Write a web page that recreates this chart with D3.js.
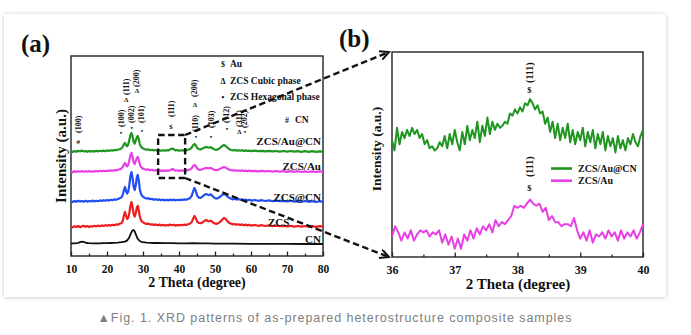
<!DOCTYPE html>
<html>
<head>
<meta charset="utf-8">
<script src="https://cdn.jsdelivr.net/npm/d3@7"></script>
<style>
body { margin: 0; background: #fff; }
svg text { font-family: "Liberation Serif", "Times New Roman", serif; font-weight: bold; fill: #111; }
svg text.caption { font-family: "Liberation Sans", Arial, sans-serif; font-weight: normal; fill: #7e7e7e; letter-spacing: 0.95px; }
</style>
</head>
<body>
<svg id="fig" width="691" height="335"></svg>
<script>
// ---- panel (a): full XRD scans, [2theta, intensity above baseline] ----
var cnData = [[10,0.2],[10.5,0.3],[11,0.3],[11.5,0.4],[12,0.6],[12.5,0.9],[13,1.2],[13.5,1.1],[14,0.7],[14.5,0.5],[15,0.4],[16,0.3],[17,0.3],[18,0.3],[19,0.4],[20,0.4],[21,0.5],[22,0.6],[23,0.7],[24,0.9],[25,1.2],[25.6,1.8],[26.1,3.0],[26.6,5.2],[27.0,6.6],[27.35,7.0],[27.7,6.3],[28.1,4.4],[28.5,2.7],[29,1.6],[29.5,1.1],[30,0.9],[31,0.7],[32,0.6],[33,0.5],[34,0.5],[36,0.4],[38,0.4],[40,0.3],[42,0.3],[44,0.4],[46,0.3],[48,0.3],[50,0.2],[55,0.2],[60,0.1],[65,0.1],[70,0.1],[75,0],[80,0]]

var zcsData = [[10,0.3],[10.5,-0.2],[11,0.4],[11.5,0],[12,0.5],[12.5,-0.1],[13,0.3],[13.5,0.6],[14,0.1],[14.5,0.5],[15,0],[15.5,0.4],[16,0.2],[16.5,0.6],[17,0.3],[17.5,0.7],[18,0.4],[18.5,0.8],[19,0.5],[19.5,0.9],[20,0.6],[20.5,1.0],[21,0.7],[21.5,1.1],[22,0.9],[22.5,1.3],[23,1.1],[23.5,1.6],[24,1.9],[24.4,3.2],[24.7,5.8],[25.0,7.5],[25.3,5.5],[25.6,4.0],[25.9,4.6],[26.2,7.0],[26.5,10.5],[26.8,12.5],[27.1,10],[27.4,6.5],[27.7,5.2],[28.0,7],[28.3,9.8],[28.55,10.5],[28.8,8.5],[29.1,5.5],[29.4,3.6],[29.8,2.6],[30.2,2.1],[30.6,1.8],[31,1.5],[31.5,1.7],[32,1.2],[32.5,1.4],[33,1.0],[33.5,1.3],[34,0.9],[34.5,1.2],[35,0.8],[35.5,1.1],[36,0.7],[36.5,1.0],[37,0.8],[37.5,1.2],[38,0.9],[38.5,1.1],[39,0.7],[39.5,1.0],[40,0.8],[40.5,1.1],[41,0.9],[41.5,1.2],[42,1.0],[42.5,1.4],[43,1.6],[43.5,2.4],[43.9,4.0],[44.3,5.5],[44.7,4.2],[45.1,2.6],[45.5,2.0],[46,1.9],[46.5,2.3],[47,2.9],[47.5,3.5],[48,3.0],[48.4,2.8],[48.8,3.2],[49.2,2.7],[49.6,2.1],[50,1.7],[50.5,1.6],[51,2.0],[51.5,2.7],[52,3.6],[52.5,4.5],[53,3.9],[53.5,2.8],[54,2.0],[54.5,1.6],[55,1.3],[55.5,1.5],[56,1.1],[56.5,1.4],[57,1.0],[57.5,1.3],[58,0.9],[58.5,1.2],[59,0.8],[59.5,1.1],[60,0.7],[61,1.0],[62,0.6],[63,0.9],[64,0.5],[65,0.8],[66,0.4],[67,0.7],[68,0.4],[69,0.6],[70,0.3],[71,0.6],[72,0.2],[73,0.5],[74,0.2],[75,0.5],[76,0.1],[77,0.4],[78,0.1],[79,0.4],[80,0.2]]

var zcsCnData = [[10,0.4],[10.5,0],[11,0.5],[11.5,0.1],[12,0.6],[12.5,0.2],[13,0.5],[13.5,0.1],[14,0.6],[14.5,0.2],[15,0.5],[15.5,0.3],[16,0.7],[16.5,0.3],[17,0.6],[17.5,0.4],[18,0.8],[18.5,0.5],[19,0.9],[19.5,0.6],[20,1.0],[20.5,0.7],[21,1.1],[21.5,0.9],[22,1.3],[22.5,1.1],[23,1.5],[23.5,1.8],[24,2.3],[24.4,3.8],[24.7,6.0],[25.0,7.5],[25.3,5.4],[25.6,4.2],[25.9,5.2],[26.2,8.5],[26.5,13],[26.8,15],[27.1,12],[27.4,7.5],[27.7,6.0],[28.0,8.5],[28.3,12.5],[28.55,13.5],[28.8,11],[29.1,6.5],[29.4,4.2],[29.8,3.0],[30.2,2.4],[30.6,2.0],[31,1.7],[31.5,1.9],[32,1.4],[32.5,1.6],[33,1.1],[33.5,1.4],[34,1.0],[34.5,1.3],[35,0.9],[35.5,1.2],[36,0.8],[36.5,1.1],[37,0.8],[37.5,1.2],[38,0.9],[38.5,1.2],[39,0.8],[39.5,1.1],[40,0.9],[40.5,1.2],[41,1.0],[41.5,1.3],[42,1.1],[42.5,1.5],[43,1.9],[43.5,3.0],[43.9,5.2],[44.3,7.0],[44.7,5.3],[45.1,3.0],[45.5,2.2],[46,2.1],[46.5,2.7],[47,3.5],[47.5,4.0],[48,3.6],[48.4,3.4],[48.8,3.9],[49.2,3.2],[49.6,2.4],[50,1.9],[50.5,1.7],[51,2.1],[51.5,2.8],[52,3.5],[52.5,4.0],[53,3.6],[53.5,2.7],[54,2.0],[54.5,1.6],[55,1.3],[55.5,1.6],[56,1.2],[56.5,1.5],[57,1.1],[57.5,1.3],[58,0.9],[58.5,1.2],[59,0.8],[59.5,1.1],[60,0.7],[61,1.0],[62,0.6],[63,0.9],[64,0.5],[65,0.8],[66,0.4],[67,0.7],[68,0.4],[69,0.6],[70,0.3],[71,0.6],[72,0.2],[73,0.5],[74,0.1],[75,0.5],[76,0.1],[77,0.4],[78,0.0],[79,0.4],[80,0.1]]

var zcsAuData = [[10,0.3],[10.5,-0.1],[11,0.4],[11.5,0],[12,0.4],[12.5,0.1],[13,0.5],[13.5,0.1],[14,0.4],[14.5,0.2],[15,0.5],[15.5,0.1],[16,0.4],[16.5,0.2],[17,0.5],[17.5,0.3],[18,0.6],[18.5,0.3],[19,0.6],[19.5,0.4],[20,0.7],[20.5,0.5],[21,0.8],[21.5,0.6],[22,0.9],[22.5,0.8],[23,1.1],[23.5,1.3],[24,1.7],[24.4,2.6],[24.7,3.8],[25.0,4.5],[25.3,3.4],[25.6,2.8],[25.9,3.5],[26.2,5.8],[26.5,8.3],[26.8,9.5],[27.1,7.6],[27.4,4.8],[27.7,4.0],[28.0,5.5],[28.3,7.0],[28.55,7.5],[28.8,6.3],[29.1,3.9],[29.4,2.6],[29.8,1.9],[30.2,1.5],[30.6,1.3],[31,1.1],[31.5,1.3],[32,0.9],[32.5,1.1],[33,0.7],[33.5,1.0],[34,0.6],[34.5,0.9],[35,0.5],[35.5,0.8],[36,0.5],[36.5,0.8],[37,0.6],[37.5,0.9],[38,1.3],[38.3,1.5],[38.6,1.1],[39,0.7],[39.5,0.9],[40,0.5],[40.5,0.8],[41,0.6],[41.5,0.9],[42,0.7],[42.5,1.0],[43,1.2],[43.5,1.8],[43.9,2.9],[44.3,3.5],[44.7,2.8],[45.1,1.7],[45.5,1.2],[46,1.1],[46.5,1.4],[47,1.8],[47.5,2.0],[48,1.9],[48.4,1.8],[48.8,2.0],[49.2,1.7],[49.6,1.3],[50,1.0],[50.5,0.9],[51,1.2],[51.5,1.7],[52,2.2],[52.5,2.5],[53,2.2],[53.5,1.6],[54,1.1],[54.5,0.9],[55,0.7],[55.5,0.9],[56,0.6],[56.5,0.8],[57,0.5],[57.5,0.8],[58,0.5],[58.5,0.7],[59,0.4],[59.5,0.7],[60,0.4],[61,0.6],[62,0.3],[63,0.6],[64,0.3],[65,0.5],[66,0.2],[67,0.5],[68,0.2],[69,0.4],[70,0.1],[71,0.4],[72,0.1],[73,0.4],[74,0.0],[75,0.3],[76,0.0],[77,0.3],[78,0.0],[79,0.3],[80,0.1]]

var zcsAuCnData = [[10,0.3],[10.5,0],[11,0.5],[11.5,0.1],[12,0.6],[12.5,0.3],[13,0.7],[13.5,0.3],[14,0.5],[14.5,0.1],[15,0.5],[15.5,0.2],[16,0.5],[16.5,0.2],[17,0.6],[17.5,0.3],[18,0.6],[18.5,0.4],[19,0.7],[19.5,0.4],[20,0.8],[20.5,0.5],[21,0.9],[21.5,0.7],[22,1.0],[22.5,0.9],[23,1.2],[23.5,1.4],[24,1.8],[24.4,2.7],[24.7,3.9],[25.0,4.5],[25.3,3.5],[25.6,2.9],[25.9,3.7],[26.2,6.0],[26.5,8.4],[26.8,9.5],[27.1,7.8],[27.4,5.0],[27.7,4.2],[28.0,5.8],[28.3,7.5],[28.55,8.0],[28.8,6.6],[29.1,4.1],[29.4,2.8],[29.8,2.0],[30.2,1.6],[30.6,1.4],[31,1.1],[31.5,1.3],[32,0.9],[32.5,1.1],[33,0.8],[33.5,1.0],[34,0.6],[34.5,0.9],[35,0.6],[35.5,0.9],[36,0.6],[36.5,0.9],[37,0.8],[37.5,1.2],[38,1.6],[38.3,1.7],[38.6,1.3],[39,0.8],[39.5,1.0],[40,0.6],[40.5,0.9],[41,0.7],[41.5,1.0],[42,0.8],[42.5,1.1],[43,1.4],[43.5,2.1],[43.9,3.3],[44.3,4.0],[44.7,3.2],[45.1,1.9],[45.5,1.4],[46,1.3],[46.5,1.7],[47,2.2],[47.5,2.5],[48,2.3],[48.4,2.2],[48.8,2.4],[49.2,2.0],[49.6,1.5],[50,1.2],[50.5,1.1],[51,1.5],[51.5,2.2],[52,3.0],[52.5,3.5],[53,3.0],[53.5,2.1],[54,1.4],[54.5,1.0],[55,0.8],[55.5,1.0],[56,0.7],[56.5,0.9],[57,0.6],[57.5,0.9],[58,0.5],[58.5,0.8],[59,0.5],[59.5,0.7],[60,0.4],[61,0.7],[62,0.4],[63,0.6],[64,0.3],[65,0.6],[66,0.3],[67,0.5],[68,0.2],[69,0.5],[70,0.2],[71,0.5],[72,0.2],[73,0.4],[74,0.1],[75,0.4],[76,0.1],[77,0.4],[78,0.1],[79,0.3],[80,0.2]]

// stacking offsets (a.u.) used to separate the patterns
var sampleNames   = ["CN", "ZCS", "ZCS@CN", "ZCS/Au", "ZCS/Au@CN"]
var sampleOffsets = [6, 14.5, 27, 42, 52]
var sampleColors  = ["#111111", "#ee1c1c", "#1f4ff2", "#e83ee6", "#1f961f"]

// reflections: [2theta, hkl, phase symbol, label foot (a.u.), symbol level (a.u.)]
var peakNotes = [
    [12.0, "(100)", "#", 61.5, 57],
    [23.9, "(100)", "•", 64.5, 61.5],
    [25.3, "(111)", "Δ", 80.5, 78],
    [26.9, "(002)", "•", 66.5, 64],
    [28.3, "(200)", "Δ", 84.5, 82.5],
    [29.7, "(101)", "•", 66.5, 62.5],
    [37.8, "(111)", "$", 69.5, 64.5],
    [44.4, "(200)", "Δ", 79.5, 75.5],
    [44.7, "(110)", "•", 62, 59.5],
    [48.9, "(103)", "•", 64, 59.5],
    [53.3, "(112)", "•", 66.5, 63.5],
    [56.7, "(311)", "Δ", 64.5, 62],
    [58.3, "(202)", "•", 64, 62]
]
var phaseKeys = [["$", "Au"], ["Δ", "ZCS Cubic phase"], ["•", "ZCS Hexagonal phase"]]
var zoomWindow = [34.2, 41.7, 39, 60.5]

// ---- panel (b): Au (111) region ----
var auCnZoom = [[36.00,57],[36.04,52],[36.08,63],[36.12,55],[36.16,61],[36.20,58],[36.24,62],[36.28,59],[36.32,63],[36.36,60],[36.40,62],[36.44,58],[36.48,60],[36.52,55],[36.56,57],[36.60,53],[36.64,54],[36.68,52],[36.72,53],[36.76,56],[36.80,54],[36.84,59],[36.88,53],[36.92,60],[36.96,55],[37.00,62],[37.04,56],[37.08,52],[37.12,61],[37.16,55],[37.20,64],[37.24,57],[37.28,62],[37.32,58],[37.36,66],[37.40,56],[37.44,64],[37.48,59],[37.52,68],[37.56,60],[37.60,66],[37.64,62],[37.68,65],[37.72,63],[37.76,64],[37.80,66],[37.84,65],[37.88,70],[37.92,69],[37.96,72],[38.00,70],[38.04,73],[38.08,71],[38.12,75],[38.16,74],[38.20,77],[38.24,75],[38.28,72],[38.32,74],[38.36,70],[38.40,71],[38.44,65],[38.48,68],[38.52,61],[38.56,66],[38.60,58],[38.64,65],[38.68,57],[38.72,63],[38.76,58],[38.80,65],[38.84,56],[38.88,62],[38.92,55],[38.96,61],[39.00,57],[39.04,63],[39.08,54],[39.12,61],[39.16,56],[39.20,62],[39.24,53],[39.28,60],[39.32,55],[39.36,61],[39.40,52],[39.44,59],[39.48,54],[39.52,58],[39.56,51],[39.60,59],[39.64,53],[39.68,57],[39.72,52],[39.76,58],[39.80,55],[39.84,60],[39.88,56],[39.92,54],[39.96,59],[40.00,62]]

var auZoom = [[36.00,10],[36.05,15],[36.10,12],[36.15,8],[36.20,12],[36.25,9],[36.30,13],[36.35,8],[36.40,11],[36.45,13],[36.50,12],[36.55,13],[36.60,10],[36.65,12],[36.70,11],[36.75,13],[36.80,7],[36.85,11],[36.90,6],[36.95,10],[37.00,4],[37.05,9],[37.10,4],[37.15,11],[37.20,8],[37.25,13],[37.30,9],[37.35,14],[37.40,11],[37.45,15],[37.50,13],[37.55,16],[37.60,12],[37.65,18],[37.70,15],[37.75,17],[37.80,16],[37.85,18],[37.90,20],[37.95,25],[38.00,24],[38.05,25],[38.10,24],[38.15,26],[38.20,28],[38.25,26],[38.30,25],[38.35,26],[38.40,22],[38.45,24],[38.50,18],[38.55,20],[38.60,17],[38.65,17],[38.70,15],[38.75,16],[38.80,16],[38.85,15],[38.90,19],[38.95,13],[39.00,9],[39.05,12],[39.10,8],[39.15,13],[39.20,7],[39.25,11],[39.30,10],[39.35,12],[39.40,9],[39.45,13],[39.50,10],[39.55,12],[39.60,8],[39.65,13],[39.70,9],[39.75,12],[39.80,10],[39.85,13],[39.90,9],[39.95,12],[40.00,16]]

var zoomNames  = ["ZCS/Au@CN", "ZCS/Au"]
var zoomColors = ["#1f961f", "#e83ee6"]
// Au (111) marks in (b): [2theta, label foot, symbol level]
var zoomNotes = [[38.19, 84.9, 81.5], [38.19, 39, 33.7]]

var caption = "▲Fig. 1. XRD patterns of as-prepared heterostructure composite samples"

var svg = d3.select("#fig")

// card with soft shadow
var defs = svg.append("defs")
var shadow = defs.append("filter").attr("id", "shadow")
    .attr("x", "-5%").attr("y", "-5%").attr("width", "110%").attr("height", "110%")
shadow.append("feDropShadow").attr("dx", 0).attr("dy", 0.5)
    .attr("stdDeviation", 2.2).attr("flood-color", "#000").attr("flood-opacity", 0.22)
defs.append("marker").attr("id", "arrow")
    .attr("markerUnits", "userSpaceOnUse")
    .attr("markerWidth", 14).attr("markerHeight", 14)
    .attr("refX", 10).attr("refY", 5).attr("orient", "auto")
    .append("path").attr("d", "M1,0.5 L10,5 L1,9.5")
    .attr("fill", "none").attr("stroke", "#111").attr("stroke-width", 2)
    .attr("stroke-dasharray", "none")

svg.append("rect").attr("x", 4).attr("y", 14).attr("width", 662).attr("height", 283)
    .attr("fill", "#fff").attr("filter", "url(#shadow)")

var xA = d3.scaleLinear().domain([10, 80]).range([71, 323])
var yA = d3.scaleLinear().domain([0, 100]).range([256, 56])
var xB = d3.scaleLinear().domain([36, 40]).range([392, 643])
var yB = d3.scaleLinear().domain([0, 100]).range([257, 52])

function draw_axis(g, x, y0, major, minor, fontSize) {
    g.append("g").attr("transform", "translate(0," + y0 + ")")
        .call(d3.axisBottom(x).tickValues(minor).tickSizeInner(-2.5).tickSizeOuter(0).tickFormat(""))
        .call(function(a) { a.select(".domain").remove() })
    var ax = g.append("g").attr("transform", "translate(0," + y0 + ")")
        .call(d3.axisBottom(x).tickValues(major).tickSizeInner(-4.5).tickSizeOuter(0)
            .tickPadding(8.5).tickFormat(d3.format("d")))
    ax.select(".domain").remove()
    ax.selectAll("text").style("font-size", fontSize + "px").attr("fill", "#111")
    g.selectAll(".tick line").attr("stroke", "#222").attr("stroke-width", 1.3)
}

// ===== panel (a) =====
var pa = svg.append("g")
pa.append("rect").attr("x", 71).attr("y", 56).attr("width", 323 - 71).attr("height", 256 - 56)
    .attr("fill", "none").attr("stroke", "#222").attr("stroke-width", 1.4)
draw_axis(pa, xA, 256, d3.range(10, 81, 10), d3.range(15, 80, 10), 11.5)

var allA = [cnData, zcsData, zcsCnData, zcsAuData, zcsAuCnData]
allA.forEach(function(data, i) {
    var off = sampleOffsets[i]
    var line = d3.line().x(function(d) { return xA(d[0]) }).y(function(d) { return yA(d[1] + off) })
    pa.append("path").datum(data).attr("d", line)
        .attr("fill", "none").attr("stroke", sampleColors[i])
        .attr("stroke-width", i == 0 ? 1.8 : 2.2).attr("stroke-linejoin", "round")
})

// sample names next to each pattern
var nameSpots = [[80, 0.6, "end"], [64.7, 0.6, "start"], [80, 0.6, "end"], [80, 1.0, "end"], [80, 3.5, "end"]]
sampleNames.forEach(function(n, i) {
    var s = nameSpots[i]
    pa.append("text").attr("x", s[2] == "end" ? xA(s[0]) - 2 : xA(s[0]))
        .attr("y", yA(sampleOffsets[i] + s[1]))
        .attr("text-anchor", s[2]).style("font-size", "11px").text(n)
})

// hkl labels and phase symbols
peakNotes.forEach(function(p) {
    var x = xA(p[0])
    pa.append("text").attr("transform", "translate(" + x + "," + yA(p[3]) + ") rotate(-90)")
        .attr("dominant-baseline", "central").style("font-size", "8px").text(p[1])
    pa.append("text").attr("x", x).attr("y", yA(p[4]))
        .attr("text-anchor", "middle").attr("dominant-baseline", "central")
        .style("font-size", "7px").text(p[2])
})

phaseKeys.forEach(function(k, i) {
    var yy = [67, 84, 100][i]
    pa.append("text").attr("x", 223).attr("y", yy).attr("text-anchor", "middle").style("font-size", "8px").text(k[0])
    pa.append("text").attr("x", 230).attr("y", yy).style("font-size", "9.5px").text(k[1])
})
pa.append("text").attr("x", 287).attr("y", 123).attr("text-anchor", "middle").style("font-size", "8px").text("#")
pa.append("text").attr("x", 295).attr("y", 123).style("font-size", "9.5px").text("CN")

pa.append("text").attr("x", 197).attr("y", 287).attr("text-anchor", "middle").style("font-size", "14px").text("2 Theta (degree)")
pa.append("text").attr("transform", "translate(66,156) rotate(-90)").attr("text-anchor", "middle")
    .style("font-size", "15px").text("Intensity (a.u.)")
svg.append("text").attr("x", 21).attr("y", 52).style("font-size", "25px").text("(a)")

// ===== panel (b) =====
var pb = svg.append("g")
pb.append("rect").attr("x", 392).attr("y", 52).attr("width", 643 - 392).attr("height", 257 - 52)
    .attr("fill", "none").attr("stroke", "#222").attr("stroke-width", 1.4)
draw_axis(pb, xB, 257, [36, 37, 38, 39, 40], [36.5, 37.5, 38.5, 39.5], 12)

var lineB = d3.line().x(function(d) { return xB(d[0]) }).y(function(d) { return yB(d[1]) })
;[auCnZoom, auZoom].forEach(function(data, i) {
    pb.append("path").datum(data).attr("d", lineB)
        .attr("fill", "none").attr("stroke", zoomColors[i])
        .attr("stroke-width", 2).attr("stroke-linejoin", "round")
})
zoomNotes.forEach(function(z) {
    pb.append("text").attr("transform", "translate(" + xB(z[0]) + "," + yB(z[1]) + ") rotate(-90)")
        .attr("dominant-baseline", "central").style("font-size", "10px").text("(111)")
    pb.append("text").attr("x", xB(z[0])).attr("y", yB(z[2])).attr("text-anchor", "middle")
        .attr("dominant-baseline", "central").style("font-size", "8.5px").text("$")
})
zoomNames.forEach(function(n, i) {
    var yy = 168.5 + i * 12.2
    pb.append("line").attr("x1", 551).attr("x2", 572).attr("y1", yy).attr("y2", yy)
        .attr("stroke", zoomColors[i]).attr("stroke-width", 2.6)
    pb.append("text").attr("x", 578).attr("y", yy + 3.5).style("font-size", "10px").text(n)
})
pb.append("text").attr("x", 518).attr("y", 289).attr("text-anchor", "middle").style("font-size", "15px").text("2 Theta (degree)")
pb.append("text").attr("transform", "translate(381,149) rotate(-90)").attr("text-anchor", "middle")
    .style("font-size", "13.5px").text("Intensity (a.u.)")
svg.append("text").attr("x", 339).attr("y", 47).style("font-size", "25px").text("(b)")

// dashed zoom window and the two guide arrows
var zx0 = xA(zoomWindow[0]), zx1 = xA(zoomWindow[1]), zy0 = yA(zoomWindow[3]), zy1 = yA(zoomWindow[2])
var dash = svg.append("g").attr("fill", "none").attr("stroke", "#111").attr("stroke-width", 2.4)
    .attr("stroke-dasharray", "6.5,3.5")
dash.append("rect").attr("x", zx0).attr("y", zy0).attr("width", zx1 - zx0).attr("height", zy1 - zy0)
dash.append("line").attr("x1", zx1).attr("y1", zy0).attr("x2", xB(36) - 3).attr("y2", yB(100))
    .attr("marker-end", "url(#arrow)")
dash.append("line").attr("x1", zx1).attr("y1", zy1).attr("x2", xB(36) - 3).attr("y2", yB(0))
    .attr("marker-end", "url(#arrow)")

svg.append("text").attr("class", "caption").attr("x", 335).attr("y", 322)
    .attr("text-anchor", "middle").style("font-size", "12.5px").text(caption)
</script>
</body>
</html>
